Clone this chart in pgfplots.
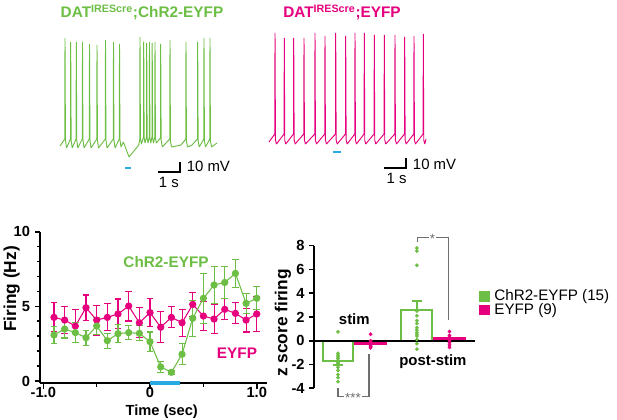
\documentclass[border=0pt]{standalone}
\usepackage{pgfplots}
\pgfplotsset{compat=1.18}
\usepackage{fontspec}
\setmainfont{Liberation Sans}
\definecolor{chgreen}{HTML}{6DBE45}
\definecolor{eyfp}{HTML}{E6007E}
\definecolor{stimblue}{HTML}{27AAE1}
\definecolor{sig}{HTML}{6D6E70}

\pgfplotsset{
  trace/.style={hide axis, scale only axis, width=132pt, height=97.5pt,
    xmin=0, xmax=8, ymin=-70, ymax=60, clip=false, anchor=south west},
  bold11/.style={font=\bfseries\fontsize{11}{13}\selectfont},
}

\begin{document}
\begin{tikzpicture}[x=0.75pt, y=0.75pt]
\path[use as bounding box] (0,0) rectangle (617,420);

% ---- example traces ----
\begin{axis}[trace, at={(45pt,191.25pt)}]
\addplot[chgreen, line width=0.7pt, line join=bevel, mark=none] coordinates {
(0,-51) (0.217,-44) (0.227,57) (0.247,-45) (0.297,-53)
(0.476,-44) (0.486,53) (0.506,-45) (0.556,-53)
(0.731,-44) (0.741,53) (0.761,-45) (0.811,-53)
(1.013,-44) (1.023,53) (1.043,-45) (1.093,-53)
(1.331,-44) (1.341,51) (1.361,-45) (1.411,-53)
(1.672,-44) (1.682,50) (1.702,-45) (1.752,-53)
(2.058,-44) (2.068,55) (2.088,-45) (2.138,-53)
(2.422,-44) (2.432,53) (2.452,-45) (2.502,-53)
(2.695,-44) (2.705,51) (2.725,-45) (2.775,-52)
(2.88,-47) (3.14,-62) (3.58,-50)
(3.626,-44) (3.636,58) (3.656,-43) (3.70,-49)
(3.795,-42) (3.805,53) (3.825,-43) (3.865,-48)
(3.931,-42) (3.941,52) (3.961,-43) (4.0,-48)
(4.058,-42) (4.068,53) (4.088,-43) (4.125,-48)
(4.181,-42) (4.191,52) (4.211,-43) (4.25,-48)
(4.308,-42) (4.318,53) (4.338,-43) (4.38,-48)
(4.567,-43) (4.577,51) (4.597,-45) (4.65,-52)
(4.99,-44) (5.0,55) (5.02,-46) (5.07,-52) (5.3,-51) (5.5,-50)
(5.717,-44) (5.727,53) (5.747,-46) (5.8,-52) (6.0,-50)
(6.249,-44) (6.259,53) (6.279,-46) (6.33,-52)
(6.535,-44) (6.545,57) (6.565,-46) (6.615,-52)
(6.808,-44) (6.818,57) (6.838,-46) (6.89,-52) (7.136,-48)
};
\addplot[stimblue, line width=2.2pt] coordinates {(2.95,-73) (3.21,-73)};
\addplot[black, line width=1.3pt] coordinates {(4.45,-77) (5.45,-77) (5.45,-67)};
\node[anchor=west, font=\fontsize{11.2}{13}\selectfont] at (axis cs:5.55,-71.5) {10 mV};
\node[font=\fontsize{11.2}{13}\selectfont] at (axis cs:4.95,-87) {1 s};
\end{axis}

\begin{axis}[trace, at={(201.75pt,191.25pt)}]
\addplot[eyfp, line width=0.7pt, line join=bevel, mark=none] coordinates {
(0,-47) (0.263,-39) (0.273,62) (0.293,-45) (0.34,-49)
(0.685,-39) (0.695,57) (0.715,-45) (0.762,-49)
(1.113,-39) (1.123,57) (1.143,-45) (1.19,-49)
(1.581,-39) (1.591,57) (1.611,-45) (1.658,-49)
(2.081,-39) (2.091,62) (2.111,-45) (2.158,-49)
(2.535,-39) (2.545,59) (2.565,-45) (2.612,-49)
(3.022,-39) (3.032,62) (3.052,-45) (3.099,-49)
(3.476,-39) (3.486,59) (3.506,-45) (3.553,-49)
(3.899,-39) (3.909,62) (3.929,-45) (3.976,-49)
(4.322,-39) (4.332,62) (4.352,-45) (4.399,-49)
(4.776,-39) (4.786,60) (4.806,-45) (4.853,-49)
(5.231,-39) (5.241,60) (5.261,-45) (5.308,-49)
(5.717,-39) (5.727,60) (5.747,-45) (5.794,-49)
(6.158,-39) (6.168,58) (6.188,-45) (6.235,-49)
(6.581,-39) (6.591,59) (6.611,-45) (6.658,-49)
(7.004,-39) (7.014,61) (7.034,-45) (7.081,-49) (7.136,-44)
};
\addplot[stimblue, line width=2.2pt] coordinates {(2.91,-57) (3.27,-57)};
\addplot[black, line width=1.3pt] coordinates {(5.23,-73) (6.23,-73) (6.23,-63)};
\node[anchor=west, font=\fontsize{11.2}{13}\selectfont] at (axis cs:6.33,-69) {10 mV};
\node[font=\fontsize{11.2}{13}\selectfont] at (axis cs:5.8,-83) {1 s};
\end{axis}

\node[chgreen, font=\bfseries\fontsize{11.5}{13}\selectfont] at (142,407.5) {DAT\textsuperscript{IREScre};ChR2-EYFP};
\node[eyfp, font=\bfseries\fontsize{11.5}{13}\selectfont] at (342,407.5) {DAT\textsuperscript{IREScre};EYFP};

% ---- firing rate over time ----
\begin{axis}[at={(30.075pt,27.6pt)}, anchor=south west, scale only axis,
  width=170.5pt, height=113.6pt, clip=false,
  xmin=-1.03, xmax=1.1, ymin=-0.15, ymax=10,
  axis x line*=bottom, axis y line*=left,
  axis line style={line width=1.4pt},
  tick style={line width=1.2pt, black}, tick align=outside,
  major tick length=4pt, minor tick length=2.5pt,
  xtick={-1,0,1}, xticklabels={-1.0,0,1.0}, minor xtick={-0.5,0.5},
  ytick={0,5,10}, yticklabels={0,5,10}, minor ytick={1,2,3,4,6,7,8,9},
  ticklabel style={bold11}, xticklabel style={yshift=2.5pt, inner sep=1pt}]
\addplot[eyfp, line width=0.8pt, mark=*, mark size=2.3pt,
  error bars/.cd, y dir=both, y explicit,
  error bar style={line width=0.8pt, eyfp},
  error mark options={rotate=90, mark size=2.6pt, line width=0.8pt, eyfp}]
coordinates {
(-0.9,4.26) +- (0,0.97) (-0.8,4.08) +- (0,0.9) (-0.7,3.68) +- (0,1.1)
(-0.6,4.91) +- (0,0.85) (-0.5,4.08) +- (0,1.0) (-0.4,4.26) +- (0,0.9)
(-0.3,4.49) +- (0,1.0) (-0.2,5.02) +- (0,1.0) (-0.1,3.9) +- (0,1.0)
(0.0,4.58) +- (0,0.93) (0.1,3.6) +- (0,1.05) (0.2,4.26) +- (0,0.7)
(0.3,3.9) +- (0,0.9) (0.4,5.13) +- (0,0.8) (0.5,4.35) +- (0,0.95)
(0.6,4.15) +- (0,1.0) (0.7,4.8) +- (0,0.7) (0.8,4.53) +- (0,0.7)
(0.9,4.08) +- (0,0.8) (1.0,4.49) +- (0,1.15)
};
\addplot[chgreen, line width=0.8pt, mark=*, mark size=2.3pt,
  error bars/.cd, y dir=both, y explicit,
  error bar style={line width=0.8pt, chgreen},
  error mark options={rotate=90, mark size=2.6pt, line width=0.8pt, chgreen}]
coordinates {
(-0.9,3.08) +- (0,0.55) (-0.8,3.48) +- (0,0.6) (-0.7,3.24) +- (0,0.65)
(-0.6,2.9) +- (0,0.5) (-0.5,3.68) +- (0,0.55) (-0.4,2.7) +- (0,0.5)
(-0.3,3.17) +- (0,0.6) (-0.2,3.24) +- (0,0.45) (-0.1,3.19) +- (0,0.5)
(0.0,2.63) +- (0,0.65) (0.1,0.94) +- (0,0.37) (0.2,0.58) +- (0,0.15)
(0.3,1.79) +- (0,0.7) (0.4,4.2) +- (0,1.2) (0.5,5.54) +- (0,1.67)
(0.6,6.43) +- (0,1.23) (0.7,6.6) +- (0,1.05) (0.8,7.21) +- (0,0.92)
(0.9,5.2) +- (0,0.67) (1.0,5.54) +- (0,0.78)
};
\addplot[stimblue, line width=3pt] coordinates {(0,-0.15) (0.28,-0.15)};
\node[chgreen, font=\bfseries\fontsize{11.5}{13}\selectfont] at (axis cs:0.15,7.97) {ChR2-EYFP};
\node[eyfp, font=\bfseries\fontsize{11.5}{13}\selectfont] at (axis cs:0.815,1.88) {EYFP};
\end{axis}
\node[inner sep=0pt, font=\bfseries\fontsize{11}{13}\selectfont] at (161.7,8.5) {Time (sec)};
\node[rotate=90, font=\bfseries\fontsize{13}{15}\selectfont] at (11.7,131) {Firing (Hz)};

% ---- z score bars ----
\begin{axis}[at={(235.5pt,23.775pt)}, anchor=south west, scale only axis,
  width=120.7pt, height=106.95pt, clip=false,
  xmin=0.264, xmax=5.2, ymin=-4, ymax=8,
  axis y line*=left, axis x line=none,
  axis line style={line width=1.4pt},
  tick style={line width=1.2pt, black}, tick align=outside,
  major tick length=3.5pt,
  xtick=\empty, ytick={-4,-2,0,2,4,6,8}, yticklabels={-4,-2,0,2,4,6,8},
  ticklabel style={bold11},
  legend style={draw=none, fill=none, inner sep=0pt, at={(axis cs:5.33,3.17)}, anchor=west,
    font=\fontsize{11.4}{13}\selectfont, legend cell align=left, row sep=-1.5pt,
    nodes={inner sep=1pt}, /tikz/every odd column/.append style={column sep=3pt}}]
\addlegendimage{legend image code/.code={\fill[chgreen] (0pt,-3.4pt) rectangle (6.8pt,3.4pt);}}
\addlegendentry{ChR2-EYFP (15)}
\addlegendimage{legend image code/.code={\fill[eyfp] (0pt,-3.4pt) rectangle (6.8pt,3.4pt);}}
\addlegendentry{EYFP (9)}
\addplot[ybar, bar width=0.95, bar shift=0pt, draw=chgreen, fill=none, line width=1.5pt,
  error bars/.cd, y dir=minus, y explicit,
  error bar style={line width=1.5pt, chgreen},
  error mark options={rotate=90, mark size=3.5pt, line width=1.5pt, chgreen}]
  coordinates {(1,-1.72) +- (0,0.3)};
\addplot[ybar, bar width=0.95, bar shift=0pt, draw=chgreen, fill=none, line width=1.5pt,
  error bars/.cd, y dir=plus, y explicit,
  error bar style={line width=1.5pt, chgreen},
  error mark options={rotate=90, mark size=3.5pt, line width=1.5pt, chgreen}]
  coordinates {(3.42,2.58) +- (0,0.76)};
\addplot[ybar, bar width=0.95, bar shift=0pt, draw=eyfp, fill=eyfp, line width=1.5pt]
  coordinates {(2,-0.3) (4.42,0.2)};
\draw[black, line width=1.5pt] (axis cs:0.264,0) -- (axis cs:5.2,0);
\addplot[only marks, mark=*, mark size=1.2pt, chgreen] coordinates {
(1,0.75) (1,-1.05) (1,-1.2) (1,-1.35) (1,-1.5) (1,-1.65) (1,-1.8) (1,-1.9)
(1,-2.0) (1,-2.1) (1,-2.25) (1,-2.5) (1,-2.85) (1,-3.1) (1,-3.45)
(3.42,7.8) (3.42,7.55) (3.42,6.35) (3.42,2.5) (3.42,2.1) (3.42,1.7) (3.42,1.45)
(3.42,1.1) (3.42,0.9) (3.42,0.7) (3.42,0.55) (3.42,0.4) (3.42,0.1) (3.42,-0.25) (3.42,-0.7)
};
\addplot[only marks, mark=*, mark size=1.2pt, eyfp] coordinates {
(2,0.55) (2,0.0) (2,-0.1) (2,-0.2) (2,-0.3) (2,-0.35) (2,-0.45) (2,-0.5) (2,-0.6)
(4.42,0.78) (4.42,0.45) (4.42,0.3) (4.42,0.2) (4.42,0.1) (4.42,0.0) (4.42,-0.15) (4.42,-0.35) (4.42,-0.55)
};
\draw[sig, line width=0.9pt] (axis cs:1,-3.98) -- (axis cs:1,-4.72) -- (axis cs:1.95,-4.72) -- (axis cs:1.95,-1.09);
\node[sig, fill=white, inner sep=1pt, font=\fontsize{10}{12}\selectfont] at (axis cs:1.46,-4.85) {***};
\draw[sig, line width=0.9pt] (axis cs:3.43,8.34) -- (axis cs:3.43,8.67) -- (axis cs:4.38,8.67) -- (axis cs:4.38,1.74);
\node[sig, fill=white, inner sep=1pt, font=\fontsize{10}{12}\selectfont] at (axis cs:3.9,8.6) {*};
\node[font=\bfseries\fontsize{11.2}{13}\selectfont] at (axis cs:1.5,1.8) {stim};
\node[font=\bfseries\fontsize{11.2}{13}\selectfont] at (axis cs:3.91,-1.77) {post-stim};
\end{axis}
\node[rotate=90, font=\bfseries\fontsize{13}{15}\selectfont] at (283,97) {z score firing};

\end{tikzpicture}
\end{document}
